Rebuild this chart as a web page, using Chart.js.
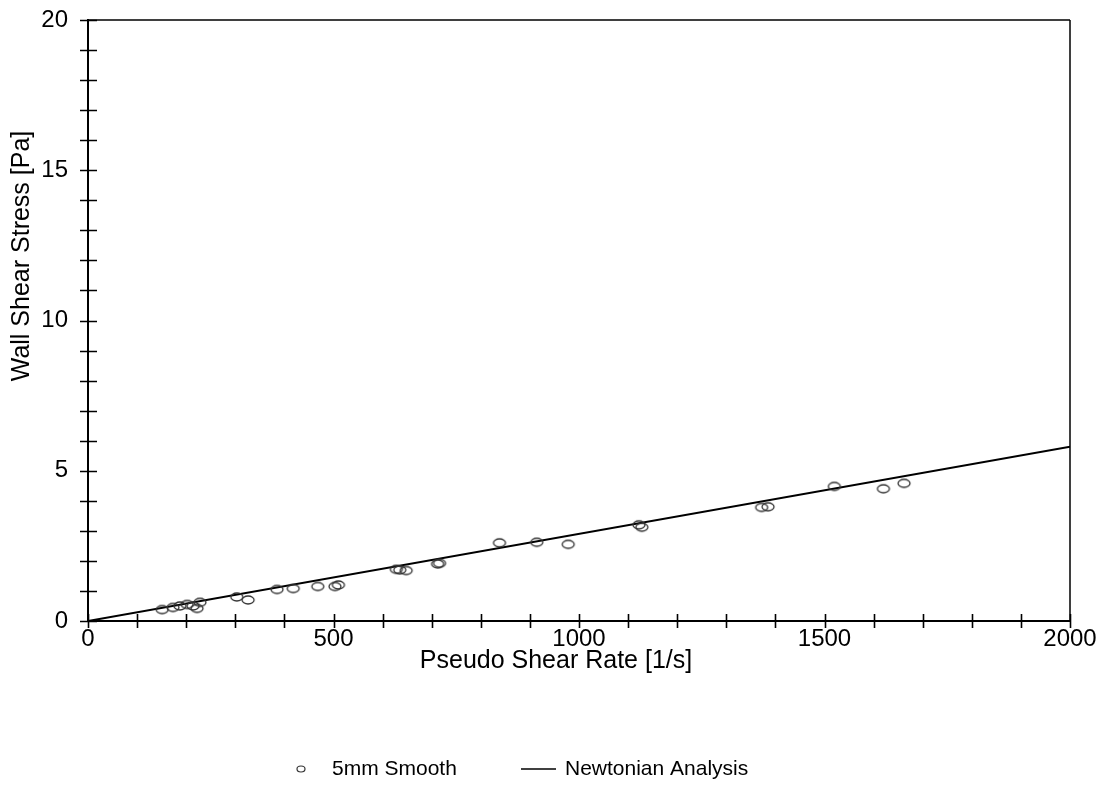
<!DOCTYPE html>
<html>
<head>
<meta charset="utf-8">
<title>Wall Shear Stress vs Pseudo Shear Rate</title>
<script src="https://cdn.jsdelivr.net/npm/chart.js@4/dist/chart.umd.min.js"></script>
<style>
  html, body { margin: 0; padding: 0; background: #ffffff; }
  #wrap { width: 1097px; height: 796px; position: relative; }
</style>
</head>
<body>
<div id="wrap"><canvas id="chart" width="1097" height="796"></canvas></div>
<script>
// Measured points, 5mm smooth tube
const shearRate = [151, 173, 187, 202, 214, 222, 228, 303, 326, 385, 418, 468, 503, 510,
                   628, 635, 648, 712, 716, 838, 914, 978, 1122, 1128, 1372, 1385, 1520, 1620, 1662];
const wallStress = [0.38, 0.45, 0.50, 0.55, 0.50, 0.42, 0.62, 0.80, 0.70, 1.05, 1.08, 1.15, 1.15, 1.20,
                    1.72, 1.70, 1.68, 1.90, 1.92, 2.60, 2.62, 2.55, 3.20, 3.12, 3.78, 3.80, 4.48, 4.40, 4.58];

// Newtonian fit line end points
const fitRate = [0, 2000];
const fitStress = [0, 5.8];

// Axis labels
const xTickLabels = ['0', '500', '1000', '1500', '2000'];
const yTickLabels = ['0', '5', '10', '15', '20'];
const xTitle = 'Pseudo Shear Rate [1/s]';
const yTitle = 'Wall Shear Stress [Pa]';
const seriesNames = ['5mm Smooth', 'Newtonian Analysis'];

const FONT = '"Liberation Sans", Arial, Helvetica, sans-serif';

// Open ellipse marker
function ellipseMarker(w, h, lw) {
  const c = document.createElement('canvas');
  c.width = w + 4; c.height = h + 4;
  const g = c.getContext('2d');
  g.strokeStyle = '#333';
  g.lineWidth = lw;
  g.beginPath();
  g.ellipse(c.width / 2, c.height / 2, w / 2, h / 2, 0, 0, Math.PI * 2);
  g.stroke();
  return c;
}
const marker = ellipseMarker(12, 8, 1.3);

const pointsData = shearRate.map((x, i) => ({ x: x, y: wallStress[i] }));
const fitData = fitRate.map((x, i) => ({ x: x, y: fitStress[i] }));

// Frame, crossing tick marks, axis titles and legend
const decorations = {
  id: 'decorations',
  afterDraw(chart) {
    const ctx = chart.ctx;
    const a = chart.chartArea;
    const xs = chart.scales.x, ys = chart.scales.y;
    ctx.save();
    ctx.strokeStyle = '#000';
    ctx.lineCap = 'butt';

    // top and right border
    ctx.lineWidth = 1.5;
    ctx.beginPath();
    ctx.moveTo(a.left, a.top); ctx.lineTo(a.right, a.top);
    ctx.moveTo(a.right, a.top); ctx.lineTo(a.right, a.bottom);
    ctx.stroke();

    // tick marks crossing the axes
    ctx.lineWidth = 1.6;
    ctx.beginPath();
    xs.ticks.forEach(t => {
      const px = Math.round(xs.getPixelForValue(t.value)) + 0.5;
      ctx.moveTo(px, a.bottom - 7); ctx.lineTo(px, a.bottom + 7);
    });
    ys.ticks.forEach(t => {
      const py = Math.round(ys.getPixelForValue(t.value)) + 0.5;
      ctx.moveTo(a.left - 8, py); ctx.lineTo(a.left + 9, py);
    });
    ctx.stroke();

    // axis titles
    ctx.fillStyle = '#000';
    ctx.font = '25px ' + FONT;
    ctx.textAlign = 'center';
    ctx.textBaseline = 'middle';
    ctx.fillText(xTitle, 556, 661);
    ctx.save();
    ctx.translate(22, 256);
    ctx.rotate(-Math.PI / 2);
    ctx.fillText(yTitle, 0, 0);
    ctx.restore();

    // legend
    const ly = 769;
    ctx.font = '21px ' + FONT;
    ctx.lineWidth = 1.2;
    ctx.strokeStyle = '#333';
    ctx.beginPath();
    ctx.ellipse(301, ly, 4, 3, 0, 0, Math.PI * 2);
    ctx.stroke();
    ctx.textAlign = 'left';
    ctx.fillText(seriesNames[0], 332, ly);
    ctx.strokeStyle = '#000';
    ctx.lineWidth = 1.6;
    ctx.beginPath();
    ctx.moveTo(521, ly); ctx.lineTo(556, ly);
    ctx.stroke();
    ctx.fillText(seriesNames[1], 565, ly);
    ctx.restore();
  }
};

new Chart(document.getElementById('chart'), {
  type: 'scatter',
  data: {
    datasets: [
      {
        label: seriesNames[0],
        data: pointsData,
        pointStyle: marker,
        pointRadius: 6,
        showLine: false
      },
      {
        label: seriesNames[1],
        type: 'line',
        data: fitData,
        borderColor: '#000',
        borderWidth: 2,
        pointRadius: 0,
        fill: false,
        tension: 0
      }
    ]
  },
  options: {
    responsive: false,
    animation: false,
    layout: { padding: { top: 20, right: 27, left: 0, bottom: 0 } },
    plugins: {
      legend: { display: false },
      tooltip: { enabled: false }
    },
    scales: {
      x: {
        type: 'linear',
        min: 0, max: 2000,
        border: { display: true, color: '#000', width: 2 },
        grid: { display: false, drawTicks: false },
        ticks: {
          stepSize: 100,
          autoSkip: false,
          maxRotation: 0,
          padding: 4,
          color: '#000',
          font: { family: FONT, size: 24 },
          callback: v => (v % 500 === 0 ? xTickLabels[v / 500] : '')
        },
        afterFit: s => { s.height = 175; s.paddingLeft = 0; s.paddingRight = 0; }
      },
      y: {
        type: 'linear',
        min: 0, max: 20,
        border: { display: true, color: '#000', width: 2 },
        grid: { display: false, drawTicks: false },
        ticks: {
          stepSize: 1,
          autoSkip: false,
          padding: 20,
          color: '#000',
          font: { family: FONT, size: 24 },
          callback: v => (v % 5 === 0 ? yTickLabels[v / 5] : '')
        },
        afterFit: s => { s.width = 88; s.paddingTop = 0; s.paddingBottom = 0; }
      }
    }
  },
  plugins: [decorations]
});
</script>
</body>
</html>
